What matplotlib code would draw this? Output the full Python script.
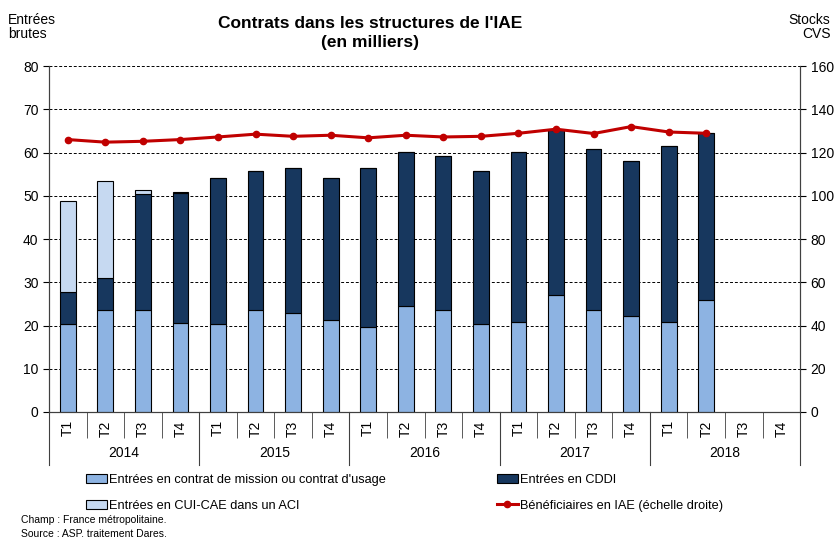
import matplotlib.pyplot as plt
import numpy as np

plt.rcParams['font.family'] = ['Liberation Sans', 'DejaVu Sans']

years = ['2014', '2015', '2016', '2017', '2018']
quarters = ['T1', 'T2', 'T3', 'T4']

# entrees (milliers), cumulative tops
mission = [20.4, 23.6, 23.6, 20.6, 20.4, 23.6, 22.9, 21.2, 19.7, 24.6, 23.5, 20.4,
           20.8, 27.0, 23.5, 22.2, 20.8, 25.8]
cddi = [7.4, 7.3, 26.8, 30.1, 33.7, 32.2, 33.5, 32.9, 36.7, 35.6, 35.7, 35.4,
        39.4, 38.2, 37.3, 35.9, 40.6, 38.7]
cui = [20.9, 22.6, 0.9, 0.2, 0, 0, 0, 0, 0, 0, 0, 0, 0, 0, 0, 0, 0, 0]
# beneficiaires (stocks CVS, echelle droite)
benef = [126.0, 124.8, 125.2, 126.0, 127.2, 128.5, 127.5, 128.0, 126.8, 128.0,
         127.2, 127.5, 128.9, 130.8, 128.8, 132.0, 129.5, 128.9]

n_cat = len(years) * len(quarters)
x = np.arange(len(mission))

fig = plt.figure(figsize=(8.37, 5.37), dpi=100)
ax = fig.add_axes([0.0585, 0.2328, 0.8975, 0.6442])
ax2 = ax.twinx()

w = 0.42
c_mis, c_cddi, c_cui, c_line = '#8DB3E2', '#17375E', '#C6D9F1', '#C00000'
b1 = ax.bar(x, mission, w, color=c_mis, edgecolor='black', linewidth=0.8, zorder=3)
b2 = ax.bar(x, cddi, w, bottom=mission, color=c_cddi, edgecolor='black', linewidth=0.8, zorder=3)
bot = np.array(mission) + np.array(cddi)
b3 = ax.bar(x, cui, w, bottom=bot, color=c_cui, edgecolor='black', linewidth=0.8, zorder=3)
l1, = ax2.plot(x, benef, color=c_line, lw=2.2, marker='o', ms=4.5, zorder=4)

ax.set_xlim(-0.5, n_cat - 0.5)
ax.set_ylim(0, 80)
ax2.set_ylim(0, 160)
ax.set_yticks(range(0, 81, 10))
ax2.set_yticks(range(0, 161, 20))
ax.yaxis.grid(True, color='black', linestyle=(0, (3, 2)), linewidth=0.7)
ax.set_axisbelow(True)
ax.tick_params(axis='y', labelsize=10, length=4, direction='out')
ax2.tick_params(axis='y', labelsize=10, length=4, direction='out')
for a in (ax, ax2):
    a.spines['top'].set_visible(False)
    for s in ('left', 'right', 'bottom'):
        a.spines[s].set_color('#404040')

# quarter labels and separators
ax.set_xticks(np.arange(n_cat))
ax.set_xticklabels(quarters * len(years), rotation=90, fontsize=10)
ax.tick_params(axis='x', which='major', length=0, pad=6)
ax.set_xticks(np.arange(n_cat + 1) - 0.5, minor=True)
ax.tick_params(axis='x', which='minor', length=19, color='#404040')
for i in range(len(years) + 1):
    ax.axvline(i * 4 - 0.5, ymin=-0.153, ymax=0, color='#404040', lw=0.8, clip_on=False)
for i, y in enumerate(years):
    ax.text(i * 4 + 1.5, -0.12, y, transform=ax.get_xaxis_transform(),
            ha='center', va='center', fontsize=10)

fig.text(0.442, 0.939, "Contrats dans les structures de l'IAE\n(en milliers)",
         ha='center', va='center', fontsize=12.5, fontweight='bold', linespacing=1.3)
fig.text(0.01, 0.975, 'Entrées\nbrutes', ha='left', va='top', fontsize=10, linespacing=1.0)
fig.text(0.992, 0.975, 'Stocks\nCVS', ha='right', va='top', fontsize=10, linespacing=1.0)

fig.legend([b1, b3, b2, l1],
           ["Entrées en contrat de mission ou contrat d'usage",
            'Entrées en CUI-CAE dans un ACI',
            'Entrées en CDDI',
            'Bénéficiaires en IAE (échelle droite)'],
           ncol=2, loc='upper left', bbox_to_anchor=(0.103, 0.118), frameon=False,
           fontsize=9.2, handlelength=1.6, handleheight=0.7, handletextpad=0.2,
           columnspacing=8.7, labelspacing=1.1, borderaxespad=0, borderpad=0)

fig.text(0.025, 0.031, 'Champ : France métropolitaine.', fontsize=7.5, va='center')
fig.text(0.025, 0.007, 'Source : ASP, traitement Dares.', fontsize=7.5, va='center')

fig.savefig('out.png', dpi=100)
